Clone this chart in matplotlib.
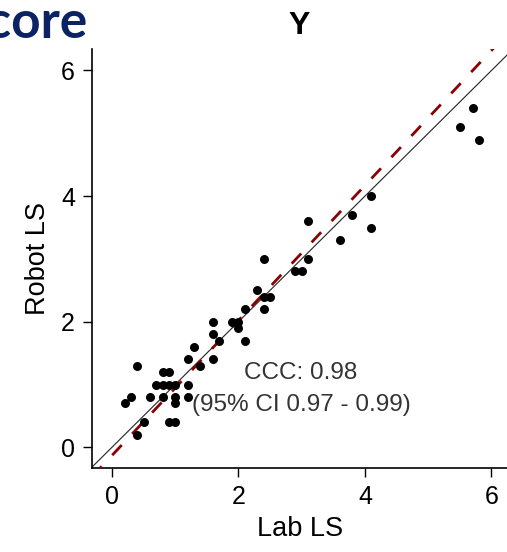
import numpy as np
import matplotlib
matplotlib.use("Agg")
from matplotlib import pyplot as plt

lab_ls = [0.2, 0.3, 0.4, 0.4, 0.5, 0.6, 0.7, 0.8, 0.8, 0.8, 0.9, 0.9, 0.9,
          1.0, 1.0, 1.0, 1.0, 1.2, 1.2, 1.2, 1.3, 1.4, 1.6, 1.6, 1.6, 1.7,
          1.9, 2.0, 2.0, 2.1, 2.1, 2.3, 2.4, 2.5, 2.4, 2.4, 2.9, 3.0, 3.1,
          3.1, 3.6, 3.8, 4.1, 4.1, 5.5, 5.7, 5.8]
robot_ls = [0.7, 0.8, 1.3, 0.2, 0.4, 0.8, 1.0, 1.0, 1.2, 0.8, 1.2, 1.0, 0.4,
            1.0, 0.8, 0.7, 0.4, 1.0, 0.8, 1.4, 1.6, 1.3, 2.0, 1.8, 1.4, 1.7,
            2.0, 2.0, 1.9, 1.7, 2.2, 2.5, 2.4, 2.4, 2.2, 3.0, 2.8, 2.8, 3.0,
            3.6, 3.3, 3.7, 4.0, 3.5, 5.1, 5.4, 4.9]

fit_slope = 1.075
fit_intercept = -0.13
ccc_text = "CCC: 0.98\n(95% CI 0.97 - 0.99)"
ticks = [0, 2, 4, 6]

plt.rcParams['font.family'] = ['Liberation Sans', 'DejaVu Sans']

fig = plt.figure(figsize=(5.07, 5.52), dpi=100)
ax = fig.add_axes([0.182, 0.152, 0.818, 0.759])

xlim = (-0.31, 6.245)
ylim = (-0.33, 6.34)
xs = np.array(xlim)

ax.plot(xs, xs, color='#222222', lw=0.8, zorder=2)
ax.plot(xs, fit_slope * xs + fit_intercept, color='#8B0000', lw=2,
        dashes=(5.0, 5.5), zorder=3)
ax.scatter(lab_ls, robot_ls, s=42, color='black', zorder=4, linewidths=0)

ax.text(2.99, 0.93, ccc_text, ha='center', va='center', fontsize=17.5,
        color='#333333', linespacing=1.6)

ax.set_xlim(xlim)
ax.set_ylim(ylim)
ax.set_xticks(ticks)
ax.set_yticks(ticks)
for s in ['top', 'right']:
    ax.spines[s].set_visible(False)
for s in ['left', 'bottom']:
    ax.spines[s].set_linewidth(1.2)
ax.tick_params(labelsize=18, length=6.5, width=1.0, pad=6, colors='black')

ax.set_xlabel('Lab LS', fontsize=19.5, labelpad=5)
ax.set_ylabel('Robot LS', fontsize=19.5, labelpad=7)
ax.set_title('Y', fontsize=23, fontweight='bold', pad=11)

# heading of the neighbouring panel, cut off at the left edge
fig.text(88 / 507, 1 - 38 / 552, 'Score', ha='right', va='baseline',
         fontsize=37, fontweight='bold', color='#0B2265', family=['Lato', 'DejaVu Sans'])

fig.savefig('out.png', dpi=100)
